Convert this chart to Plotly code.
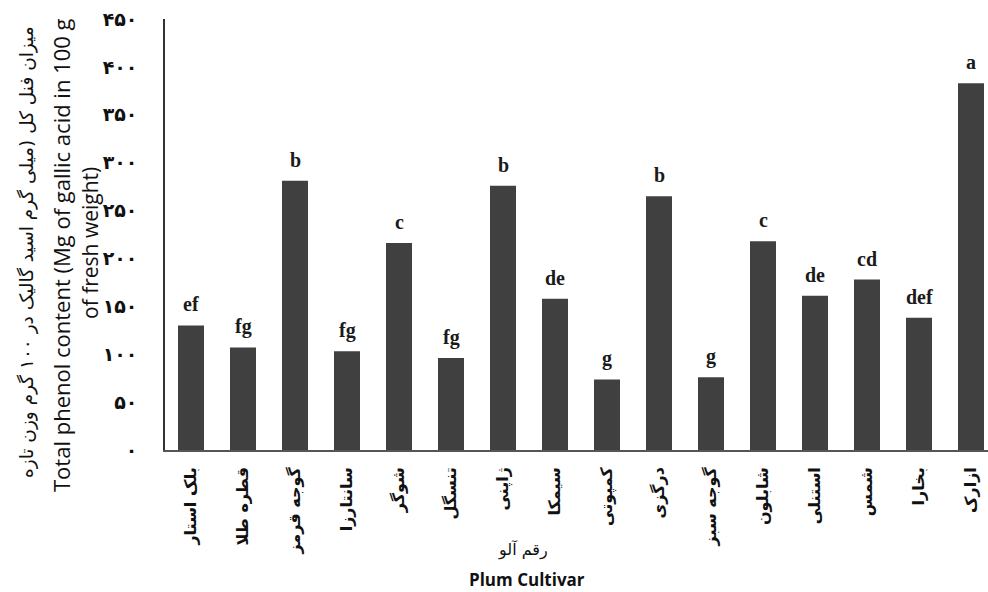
import plotly.graph_objects as go

# Plum cultivars (Persian names) and total phenol content per cultivar
cultivars = [
    "بلک استار", "قطره طلا", "گوجه قرمز", "سانتارزا", "شوگر", "تنسگل",
    "ژاپنی", "سیمکا", "کمپوتی", "درگزی", "گوجه سبز", "شابلون",
    "استنلی", "شمس", "بخارا", "ازارک",
]
phenol = [130, 107, 281, 103, 216, 96, 276, 158, 73.5, 265, 76, 218, 161, 178, 138, 383]
groups = ["ef", "fg", "b", "fg", "c", "fg", "b", "de", "g", "b", "g", "c", "de", "cd", "def", "a"]

y_tick_values = [0, 50, 100, 150, 200, 250, 300, 350, 400, 450]
y_tick_labels = ["۰", "۵۰", "۱۰۰", "۱۵۰", "۲۰۰", "۲۵۰", "۳۰۰", "۳۵۰", "۴۰۰", "۴۵۰"]

W, H = 988, 592
ML, MR, MT, MB = 165, 0, 19, 142
PW, PH = W - ML - MR, H - MT - MB


def px_x(x):
    return (x - ML) / PW


def px_y(y):
    return (H - MB - y) / PH


idx = list(range(len(cultivars)))

fig = go.Figure()
fig.add_trace(go.Bar(
    x=idx, y=phenol, width=0.5,
    marker=dict(color="#404040", line=dict(width=0)),
    hoverinfo="skip",
))

annotations = []
# significance letters above bars
for i, v, g in zip(idx, phenol, groups):
    annotations.append(dict(
        x=i, y=v, xref="x", yref="y", text=g, showarrow=False,
        xanchor="center", yanchor="middle", yshift=21,
        font=dict(family="Liberation Serif", size=20, color="#1a1a1a", weight="bold"),
    ))


def title_note(x, y, text, family, size, angle=0, bold=False):
    font = dict(family=family, size=size, color="#111")
    if bold:
        font["weight"] = "bold"
    return dict(x=px_x(x), y=px_y(y), xref="paper", yref="paper", showarrow=False,
                xanchor="center", yanchor="middle", text=text, textangle=angle,
                font=font)


# axis titles
annotations += [
    title_note(27, 252, "میزان فنل کل (میلی گرم اسید گالیک در ۱۰۰ گرم وزن تازه",
               "DejaVu Sans", 18.5, angle=-90),
    title_note(61, 255, "Total phenol content (Mg of gallic acid in 100 g",
               "Open Sans", 22, angle=-90),
    title_note(90, 243, "of fresh weight)", "Open Sans", 21, angle=-90),
    title_note(523, 550, "رقم آلو", "DejaVu Sans", 16),
    title_note(527, 579, "Plum Cultivar", "Open Sans", 17, bold=True),
]

fig.update_layout(
    width=W, height=H,
    margin=dict(l=ML, r=MR, t=MT, b=MB, autoexpand=False),
    paper_bgcolor="white", plot_bgcolor="white",
    showlegend=False,
    annotations=annotations,
    xaxis=dict(
        range=[-0.5, -0.5 + PW / 52.0],
        tickvals=idx, ticktext=cultivars, tickangle=-90,
        tickfont=dict(family="DejaVu Sans", size=16, color="#111", weight="bold"),
        ticklabelstandoff=9,
        showline=True, linecolor="#555", linewidth=1.5,
        showgrid=False, zeroline=False, ticks="",
    ),
    yaxis=dict(
        range=[0, 450],
        tickvals=y_tick_values, ticktext=y_tick_labels,
        tickfont=dict(family="DejaVu Sans", size=19, color="#111", weight="bold"),
        ticklabelstandoff=22,
        showline=True, linecolor="#333", linewidth=1.5,
        showgrid=False, zeroline=False, ticks="",
    ),
)

fig.write_html("out.html")
